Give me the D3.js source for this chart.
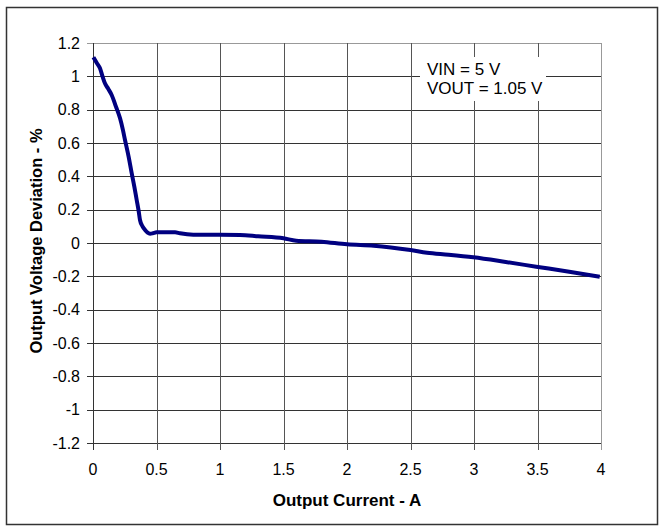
<!DOCTYPE html>
<html><head><meta charset="utf-8">
<script src="https://cdn.jsdelivr.net/npm/d3@7"></script>
<style>body{margin:0;background:#fff}svg{display:block}text{font-family:"Liberation Sans",Arial,sans-serif}</style>
</head><body><svg id="c" width="665" height="532"></svg>
<script>
const current = [0.003,0.03,0.055,0.075,0.094,0.12,0.147,0.18,0.213,0.235,0.252,0.28,0.305,0.325,0.344,0.36,0.37,0.39,0.41,0.43,0.449,0.47,0.50,0.58,0.646,0.685,0.79,1.0,1.157,1.3,1.5,1.6,1.8,2.0,2.21,2.5,2.63,2.8,2.995,3.25,3.49,3.75,3.99];
const deviation = [1.115,1.08,1.048,1.0,0.958,0.925,0.888,0.82,0.748,0.68,0.618,0.52,0.418,0.34,0.258,0.19,0.138,0.1,0.078,0.062,0.056,0.058,0.064,0.064,0.064,0.058,0.05,0.05,0.048,0.04,0.028,0.014,0.008,-0.008,-0.016,-0.042,-0.058,-0.07,-0.086,-0.114,-0.142,-0.172,-0.202];
const xTicks = [0,0.5,1,1.5,2,2.5,3,3.5,4];
const yTicks = [-1.2,-1,-0.8,-0.6,-0.4,-0.2,0,0.2,0.4,0.6,0.8,1,1.2];
const notes = ["VIN = 5 V","VOUT = 1.05 V"];

const svg = d3.select("#c");
const L=93,R=601,T=43,B=443;
const x = d3.scaleLinear().domain([0,4]).range([L,R]);
const y = d3.scaleLinear().domain([-1.2,1.2]).range([B,T]);

svg.append("rect").attr("x",6.5).attr("y",7.5).attr("width",651).attr("height",517).attr("fill","#fff").attr("stroke","#333").attr("stroke-width",1.5);

const g = svg.append("g");
g.selectAll(".hg").data(yTicks).enter().append("line")
 .attr("x1",L-6).attr("x2",R).attr("y1",d=>Math.round(y(d))+0.5).attr("y2",d=>Math.round(y(d))+0.5)
 .attr("stroke",d=>d===1.2?"#999":"#333").attr("stroke-width",1);
g.selectAll(".vg").data(xTicks).enter().append("line")
 .attr("y1",T).attr("y2",B+7).attr("x1",d=>Math.round(x(d))+0.5).attr("x2",d=>Math.round(x(d))+0.5)
 .attr("stroke",d=>d===4?"#999":(d===0?"#333":"#555")).attr("stroke-width",1);

svg.append("rect").attr("x",420).attr("y",57).attr("width",126).attr("height",44).attr("fill","#fff");
svg.selectAll(".note").data(notes).enter().append("text")
 .attr("x",427).attr("y",(d,i)=>75+i*19).attr("font-size",17).attr("fill","#000").text(d=>d);

svg.selectAll(".yt").data(yTicks).enter().append("text")
 .attr("x",80).attr("y",d=>y(d)+5.5).attr("text-anchor","end").attr("font-size",16).text(d=>String(d));
svg.selectAll(".xt").data(xTicks).enter().append("text")
 .attr("x",d=>x(d)).attr("y",475).attr("text-anchor","middle").attr("font-size",16).text(d=>String(d));

svg.append("text").attr("x",347).attr("y",506).attr("text-anchor","middle").attr("font-size",17).attr("font-weight","bold").text("Output Current - A");
svg.append("text").attr("transform","translate(42,241) rotate(-90)").attr("text-anchor","middle").attr("font-size",16.5).attr("font-weight","bold").text("Output Voltage Deviation - %");

const line = d3.line().x((d,i)=>x(current[i])).y(d=>y(d)).curve(d3.curveMonotoneX);
svg.append("path").datum(deviation).attr("d",line).attr("fill","none").attr("stroke","#000080").attr("stroke-width",4).attr("stroke-linejoin","round");
</script></body></html>
